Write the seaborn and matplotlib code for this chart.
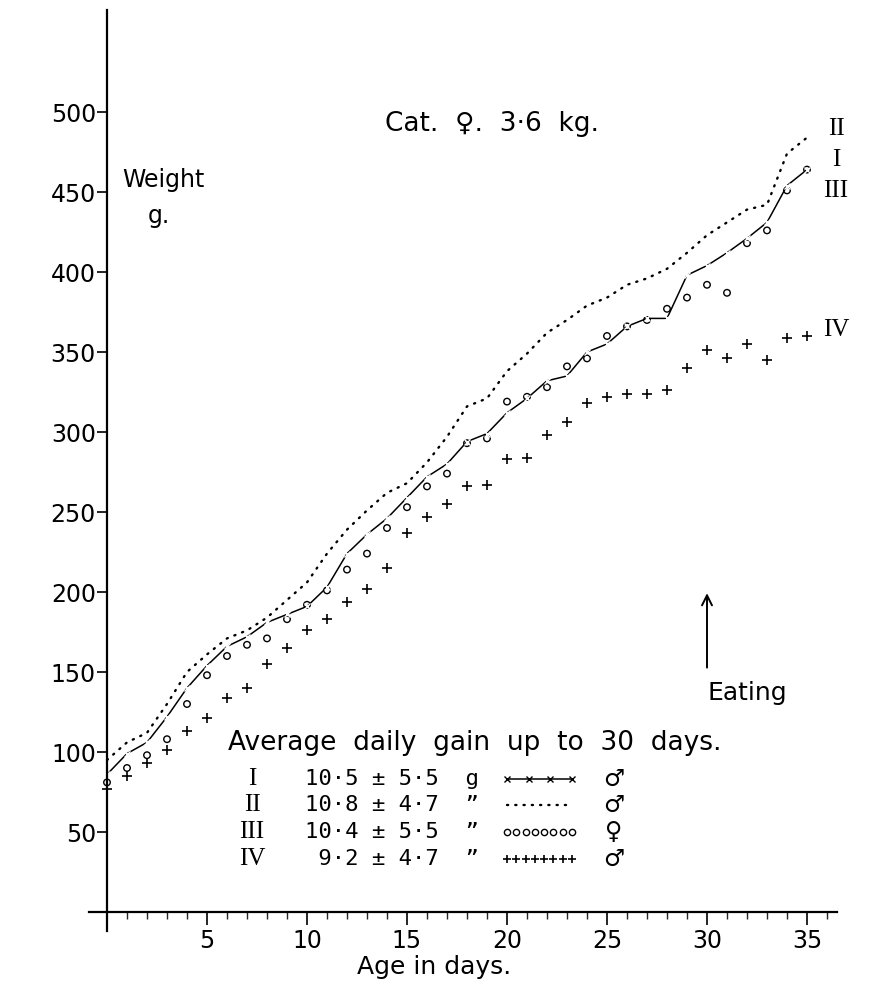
import numpy as np
import pandas as pd
import matplotlib
matplotlib.use("Agg")
import matplotlib.pyplot as plt
from matplotlib.lines import Line2D
import seaborn as sns

# ---- data ----
days = list(range(36))
kitten_I = [86, 99, 106, 122, 140, 154, 166, 172, 181, 186, 191, 203, 224, 236, 246, 259, 272, 280,
            294, 299, 312, 321, 332, 335, 350, 355, 366, 371, 371, 398, 404, 412, 421, 431, 454, 464]
kitten_II = [95, 106, 112, 130, 150, 161, 171, 176, 184, 195, 206, 224, 239, 251, 262, 268, 281, 297,
             316, 321, 338, 349, 362, 370, 379, 384, 392, 396, 402, 412, 423, 431, 439, 442, 474, 484]
kitten_III = [81, 90, 98, 108, 130, 148, 160, 167, 171, 183, 192, 201, 214, 224, 240, 253, 266, 274,
              293, 296, 319, 322, 328, 341, 346, 360, 366, 370, 377, 384, 392, 387, 418, 426, 451, 464]
kitten_IV = [77, 85, 93, 101, 113, 121, 134, 140, 155, 165, 176, 183, 194, 202, 215, 237, 247, 255,
             266, 267, 283, 284, 298, 306, 318, 322, 324, 324, 326, 340, 351, 346, 355, 345, 359, 360]

x_ticks = [5, 10, 15, 20, 25, 30, 35]
y_ticks = [50, 100, 150, 200, 250, 300, 350, 400, 450, 500]
roman = ["I", "II", "III", "IV"]
gain_mean = ["10·5", "10·8", "10·4", "9·2"]
gain_sd = ["5·5", "4·7", "5·5", "4·7"]
gain_unit = ["g", "\u201d", "\u201d", "\u201d"]
sexes = ["\u2642", "\u2642", "\u2640", "\u2642"]
eating_day = 30

sns.set_theme(style="white")
plt.rcParams["font.family"] = ["DejaVu Sans"]
plt.rcParams["text.color"] = "black"

W, H = 874, 986
fig = plt.figure(figsize=(W / 100, H / 100), dpi=100)
ax = fig.add_axes([0, 0, 1, 1])
ax.set_facecolor("white")


def fx(px):
    return px / W


def fy(py):
    return 1 - py / H


df = pd.DataFrame({"day": days * 4,
                   "weight": kitten_I + kitten_II + kitten_III + kitten_IV,
                   "kitten": sum([[r] * len(days) for r in roman], [])})

dot_style = (0, (0.5, 3.0))

# I: solid line with small crosses
sns.lineplot(data=df[df.kitten == "I"], x="day", y="weight", ax=ax, color="black",
             lw=1.1, marker="x", markersize=4, markeredgewidth=1.0, legend=False)
# II: dotted
sns.lineplot(data=df[df.kitten == "II"], x="day", y="weight", ax=ax, color="black",
             lw=1.7, legend=False)
ax.lines[-1].set_linestyle(dot_style)
ax.lines[-1].set_dash_capstyle("round")
# III: open circles
sns.scatterplot(data=df[df.kitten == "III"], x="day", y="weight", ax=ax, marker="o", s=22,
                facecolor="none", edgecolor="black", linewidth=1.0, legend=False)
# IV: plus signs
sns.scatterplot(data=df[df.kitten == "IV"], x="day", y="weight", ax=ax, marker="+", s=45,
                color="black", linewidth=1.2, legend=False)

ax.set_xlim(-107 / 20, (W - 107) / 20)
ax.set_ylim(-(H - 912) / 1.6, 912 / 1.6)

for s in ["top", "right"]:
    ax.spines[s].set_visible(False)
ax.spines["left"].set_position(("data", 0))
ax.spines["bottom"].set_position(("data", 0))
ax.spines["left"].set_bounds(-12, 564)
ax.spines["bottom"].set_bounds(-0.9, 36.5)
for s in ["left", "bottom"]:
    ax.spines[s].set_color("black")
    ax.spines[s].set_linewidth(1.6)

ax.set_xticks(x_ticks)
ax.set_xticks(range(1, 37), minor=True)
ax.set_yticks(y_ticks)
ax.tick_params(axis="x", which="major", direction="out", length=9, width=1.2, pad=3,
               labelsize=17, colors="black", bottom=True)
ax.tick_params(axis="x", which="minor", direction="out", length=5, width=1.0, bottom=True)
ax.tick_params(axis="y", direction="out", length=7, width=1.2, pad=1, labelsize=17,
               colors="black", left=True)
ax.set_xlabel("")
ax.set_ylabel("")

# axis titles
fig.text(fx(434), fy(967), "Age in days.", ha="center", va="center", fontsize=18)
fig.text(fx(122), fy(180), "Weight", ha="left", va="center", fontsize=17)
fig.text(fx(148), fy(216), "g.", ha="left", va="center", fontsize=17)
fig.text(fx(385), fy(124), "Cat.  \u2640.  3·6  kg.", ha="left", va="center", fontsize=19)

# series labels at the right
serif = ["Liberation Serif", "DejaVu Serif"]
right_labels = {"II": 129, "I": 160, "III": 191, "IV": 330}
for lab, py in right_labels.items():
    fig.text(fx(836), fy(py), lab, ha="center", va="center", fontsize=18, family=serif)

# eating arrow
ax.annotate("", xy=(eating_day, 201), xytext=(eating_day, 151),
            arrowprops=dict(arrowstyle="->", lw=1.4, color="black", mutation_scale=18))
ax.text(eating_day, 137, "Eating", ha="left", va="center", fontsize=18)

# hand-drawn style legend
fig.text(fx(228), fy(743), "Average  daily  gain  up  to  30  days.", ha="left", va="center",
         fontsize=19)
row_y = [779, 805, 832, 859]
sample_styles = [
    dict(color="black", lw=1.1, marker="x", ms=4, mew=1.0),
    dict(color="black", lw=1.7, linestyle=dot_style, dash_capstyle="round"),
    dict(color="black", lw=0, marker="o", ms=4.5, mfc="none", mew=1.0),
    dict(color="black", lw=0, marker="+", ms=6, mew=1.2),
]
sample_n = [4, 2, 8, 8]
for i, py in enumerate(row_y):
    fig.text(fx(252), fy(py), roman[i], ha="center", va="center", fontsize=18, family=serif)
    fig.text(fx(305), fy(py), f"{gain_mean[i]:>4} \u00b1 {gain_sd[i]}  {gain_unit[i]}",
             ha="left", va="center", fontsize=16, family=["DejaVu Sans Mono", "DejaVu Sans"])
    xs = np.linspace(fx(507), fx(572), sample_n[i])
    fig.add_artist(Line2D(xs, [fy(py)] * len(xs), transform=fig.transFigure, **sample_styles[i]))
    fig.text(fx(614), fy(py), sexes[i], ha="center", va="center", fontsize=17)

fig.savefig("out.png", dpi=100, facecolor="white")
